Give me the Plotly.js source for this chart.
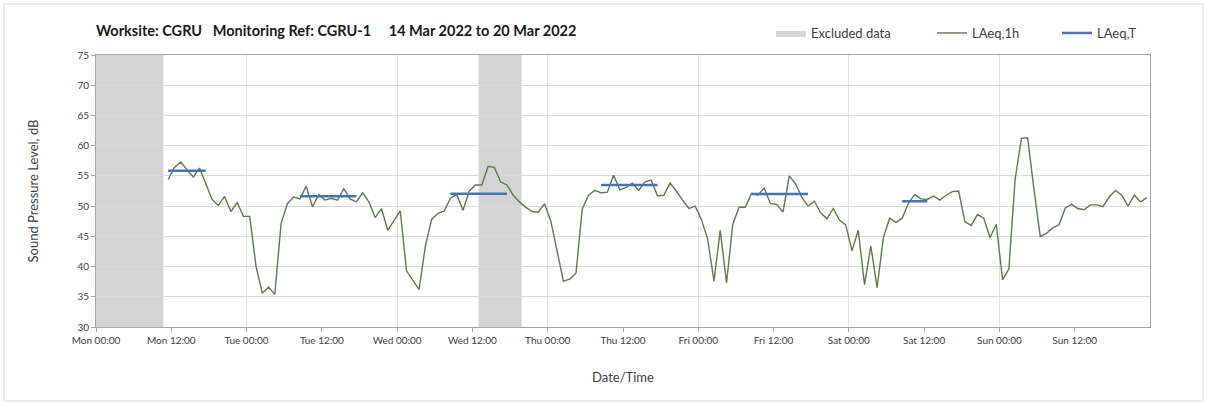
<!DOCTYPE html>
<html>
<head>
<meta charset="utf-8">
<script src="https://cdn.plot.ly/plotly-3.0.1.min.js"></script>
<style>
  html, body { margin: 0; padding: 0; background: #ffffff; }
  #chart { width: 1207px; height: 405px; }
</style>
</head>
<body>
<div id="chart"></div>
<script>
// ---- Data ----
const weekStart = '2022-03-14 00:00';          // Mon 00:00
const firstHour = 11;                           // first hourly value: Mon 11:00-12:00
// LAeq,1h values, one per hour, from Mon 11:00 to Sun 23:00
const laeq1h = [
  54.4, 56.4, 57.3, 56.0, 54.8, 56.3, 53.7, 51.1, 50.1, 51.6, 49.1, 50.6, 48.3,
  48.3, 40.1, 35.6, 36.6, 35.4, 47.1, 50.4, 51.5, 51.2, 53.3, 49.9, 51.9, 51.0,
  51.3, 51.0, 52.9, 51.2, 50.7, 52.2, 50.7, 48.1, 49.6, 46.0, 47.6, 49.2,
  39.3, 37.7, 36.2, 43.4, 47.8, 48.8, 49.2, 51.3, 51.9, 49.3, 52.5, 53.5, 53.5,
  56.6, 56.4, 54.0, 53.5, 51.8, 50.7, 49.8, 49.1, 49.0, 50.4, 47.5,
  42.6, 37.6, 37.9, 38.9, 49.5, 51.8, 52.6, 52.2, 52.3, 55.1, 52.7, 53.1, 53.8,
  52.6, 54.0, 54.3, 51.7, 51.8, 53.8, 52.5, 51.0, 49.6, 50.0, 47.8,
  44.5, 37.6, 46.0, 37.3, 47.0, 49.8, 49.8, 52.1, 51.8, 53.0, 50.4, 50.3, 49.0,
  55.0, 53.7, 51.5, 50.0, 50.8, 48.9, 47.9, 49.6, 47.7, 46.9,
  42.6, 46.0, 37.0, 43.4, 36.5, 44.8, 48.0, 47.3, 48.0, 50.5, 51.9, 51.2, 51.1,
  51.65, 51.0, 51.8, 52.4, 52.5, 47.4, 46.8, 48.6, 48.0, 44.8, 47.0,
  37.8, 39.6, 54.4, 61.2, 61.3, 52.8, 45.0, 45.5, 46.4, 46.9, 49.7, 50.3, 49.6,
  49.4, 50.2, 50.2, 49.9, 51.5, 52.6, 51.8, 50.0, 51.8, 50.7, 51.4
];
// LAeq,T periods (hour index from Mon 00:00 of first and last hourly value)
const periodFirstHour = [11, 32, 56, 80, 104, 128];
const periodLastHour  = [17, 41, 65, 89, 113, 132];
const periodLevel     = [55.85, 51.65, 52.05, 53.5, 52.0, 50.8];
// Excluded data periods
const excludedStart = ['2022-03-14 00:00', '2022-03-16 13:00'];
const excludedEnd   = ['2022-03-14 10:45', '2022-03-16 19:50'];
// Axis ticks
const tickDays = ['Mon', 'Tue', 'Wed', 'Thu', 'Fri', 'Sat', 'Sun'];
const tickHours = ['00:00', '12:00'];

// ---- helpers ----
const t0 = Date.UTC(2022, 2, 14, 0, 0);
function hourToStr(h) {
  return new Date(t0 + h * 3600000).toISOString().slice(0, 19).replace('T', ' ');
}

const x1h = laeq1h.map((v, i) => hourToStr(firstHour + i + 0.5));

const xT = [], yT = [];
periodLevel.forEach((lvl, i) => {
  xT.push(hourToStr(periodFirstHour[i] + 0.5), hourToStr(periodLastHour[i] + 0.5), null);
  yT.push(lvl, lvl, null);
});

const tickvals = [], ticktext = [];
tickDays.forEach((d, di) => {
  tickHours.forEach((hh, hi) => {
    tickvals.push(hourToStr(di * 24 + hi * 12));
    ticktext.push(d + ' ' + hh);
  });
});

const FONT = 'Lato, "Open Sans", sans-serif';
const txtCol = '#404040';

const traces = [
  {
    type: 'scatter', mode: 'lines', name: 'Excluded data',
    x: [null], y: [null], fill: 'toself', fillcolor: '#d4d4d4',
    line: { width: 0, color: '#d4d4d4' }, legend: 'legend', hoverinfo: 'skip'
  },
  {
    type: 'scatter', mode: 'lines', name: 'LAeq,1h',
    x: x1h, y: laeq1h, line: { color: '#5e7c46', width: 1.4 }, legend: 'legend2'
  },
  {
    type: 'scatter', mode: 'lines', name: 'LAeq,T',
    x: xT, y: yT, line: { color: '#4472c4', width: 2.5 }, connectgaps: false, legend: 'legend3'
  }
];

const shapes = excludedStart.map((s, i) => ({
  type: 'rect', xref: 'x', yref: 'paper', x0: s, x1: excludedEnd[i], y0: 0, y1: 1,
  fillcolor: '#d4d4d4', line: { width: 0 }, layer: 'below'
}));
// outer chart frame
shapes.push({
  type: 'rect', xref: 'paper', yref: 'paper',
  x0: (4 - 96) / 1054, x1: (1203 - 96) / 1054, y0: -(401 - 327) / 272, y1: 1 + (55 - 4) / 272,
  line: { color: '#d9d9d9', width: 1 }, fillcolor: 'rgba(0,0,0,0)', layer: 'below'
});

const legendBase = {
  orientation: 'h', yanchor: 'middle', y: 1 + 22 / 272, xanchor: 'left',
  font: { family: FONT, size: 13, color: txtCol }, bgcolor: 'rgba(0,0,0,0)'
};

const layout = {
  width: 1207, height: 405,
  margin: { l: 96, r: 57, t: 55, b: 78 },
  paper_bgcolor: '#ffffff', plot_bgcolor: '#ffffff',
  font: { family: FONT, color: txtCol },
  title: {
    text: 'Worksite: CGRU\u00a0\u00a0\u00a0Monitoring Ref: CGRU-1\u00a0\u00a0\u00a0\u00a0\u00a014 Mar 2022 to 20 Mar 2022',
    font: { family: FONT, size: 14.5, color: '#1a1a1a', weight: 'bold' },
    xref: 'paper', x: 0, xanchor: 'left', yref: 'container', y: 1 - 31 / 405, yanchor: 'middle'
  },
  showlegend: true,
  legend: Object.assign({}, legendBase, { x: (771 - 96) / 1054 }),
  legend2: Object.assign({}, legendBase, { x: (932 - 96) / 1054 }),
  legend3: Object.assign({}, legendBase, { x: (1057 - 96) / 1054 }),
  xaxis: {
    type: 'date', range: [weekStart, '2022-03-21 00:00'],
    tickmode: 'array', tickvals: tickvals, ticktext: ticktext,
    ticks: 'outside', ticklen: 4, tickcolor: '#a6a6a6',
    tickfont: { family: FONT, size: 10, color: txtCol },
    showgrid: false,
    minor: { tick0: weekStart, dtick: 86400000, showgrid: true, gridcolor: '#e3e3e3', gridwidth: 1, ticks: '' },
    showline: true, linecolor: '#a6a6a6', linewidth: 1, mirror: true,
    zeroline: false,
    title: { text: 'Date/Time', font: { family: FONT, size: 13, color: txtCol }, standoff: 27 }
  },
  yaxis: {
    range: [30, 75], dtick: 5, tick0: 30,
    ticks: 'outside', ticklen: 4, tickcolor: '#a6a6a6',
    tickfont: { family: FONT, size: 10, color: txtCol },
    showgrid: true, gridcolor: '#d9d9d9', gridwidth: 1,
    showline: true, linecolor: '#a6a6a6', linewidth: 1, mirror: true,
    zeroline: false,
    title: { text: 'Sound Pressure Level, dB', font: { family: FONT, size: 13, color: txtCol }, standoff: 35 }
  },
  shapes: shapes
};

Plotly.newPlot('chart', traces, layout, { displayModeBar: false, staticPlot: true });
</script>
</body>
</html>
